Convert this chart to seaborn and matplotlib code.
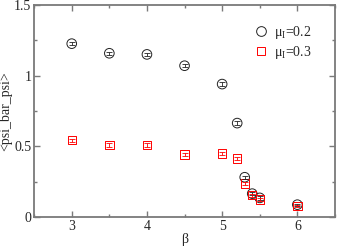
import numpy as np
import seaborn as sns
import matplotlib.pyplot as plt
from matplotlib.ticker import MultipleLocator
from matplotlib.lines import Line2D

# data
beta = [3.0, 3.5, 4.0, 4.5, 5.0, 5.2, 5.3, 5.4, 5.5, 6.0]
pbp_02 = [1.226, 1.158, 1.150, 1.070, 0.940, 0.664, 0.281, 0.165, 0.135, 0.087]
err_02 = [0.012, 0.012, 0.012, 0.012, 0.012, 0.012, 0.012, 0.012, 0.012, 0.008]
pbp_03 = [0.543, 0.510, 0.508, 0.442, 0.449, 0.413, 0.236, 0.154, 0.123, 0.078]
err_03 = [0.012, 0.012, 0.012, 0.012, 0.012, 0.010, 0.012, 0.012, 0.010, 0.008]
labels = [r'$\mathregular{\mu_I}$=0.2', r'$\mathregular{\mu_I}$=0.3']

sns.set_style("ticks")
plt.rcParams['font.family'] = ['Liberation Serif', 'DejaVu Serif']
plt.rcParams['mathtext.fontset'] = 'stix'

fig = plt.figure(figsize=(3.38, 2.46), dpi=100)
ax = fig.add_axes([0.101, 0.118, 0.890, 0.862])

grey = '#7a7a7a'
black = '#222222'
red = '#ff0000'
sns.scatterplot(x=beta, y=pbp_02, marker='o', s=48, color=black,
                facecolors='none', edgecolors=black, linewidth=0.7,
                ax=ax, legend=False)
ax.errorbar(beta, pbp_02, yerr=err_02, fmt='none', ecolor=black,
            elinewidth=0.6, capsize=2.5, capthick=0.6)
sns.scatterplot(x=beta, y=pbp_03, marker='s', s=36, color=red,
                facecolors='none', edgecolors=red, linewidth=0.7,
                ax=ax, legend=False)
ax.errorbar(beta, pbp_03, yerr=err_03, fmt='none', ecolor=red,
            elinewidth=0.6, capsize=2.5, capthick=0.6)

ax.set_xlim(2.5, 6.5)
ax.set_ylim(0, 1.5)
ax.xaxis.set_major_locator(MultipleLocator(1))
ax.xaxis.set_minor_locator(MultipleLocator(0.5))
ax.yaxis.set_minor_locator(MultipleLocator(0.25))
ax.set_yticks([0, 0.5, 1, 1.5])
ax.set_yticklabels(['0', '0.5', '1', '1.5'])

ax.tick_params(which='both', direction='in', top=True, right=True,
               color=grey, labelsize=10, pad=2)
ax.tick_params(which='major', length=4, width=1)
ax.tick_params(which='minor', length=2.5, width=1)
for s in ax.spines.values():
    s.set_color(grey)
    s.set_linewidth(1.3)

ax.set_xlabel('β', fontsize=10, labelpad=0)
ax.set_ylabel('<psi_bar_psi>', fontsize=10, labelpad=1)

handles = [
    Line2D([], [], ls='none', marker='o', ms=7, mfc='none', mec=black, mew=0.7),
    Line2D([], [], ls='none', marker='s', ms=6, mfc='none', mec=red, mew=0.7),
]
ax.legend(handles, labels, loc='upper right', bbox_to_anchor=(0.95, 0.95),
          frameon=False, fontsize=10, handletextpad=0.2, labelspacing=0.25,
          borderaxespad=0.2, handlelength=1.5)

fig.savefig('out.png', dpi=100)
